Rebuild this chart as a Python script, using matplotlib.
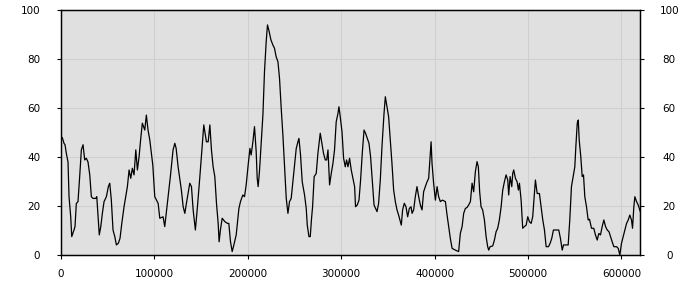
import matplotlib
matplotlib.use("Agg")
import matplotlib.pyplot as plt

x_values = [
    1400, 3200, 4300, 5700, 7500, 8600, 10400, 11500, 12900, 13900, 15000, 16400, 18200,
    20000, 21800, 23600, 25400, 27100, 28900, 30800, 32500, 34300, 37200, 38300, 39700,
    41000, 42600, 44300, 46100, 48600, 50700, 52200, 53900, 55700, 57600, 59300, 61400,
    63200, 65100, 67500, 69300, 71100, 72900, 74700, 76400, 78200, 80100, 81800, 83600,
    85400, 87100, 89700, 91400, 93200, 95100, 98300, 100400, 104000, 105800, 109300,
    111100, 114700, 117100, 120000, 121900, 123300, 125400, 128900, 130800, 132600,
    134300, 137900, 139700, 141500, 143900, 146100, 148700, 151100, 152900, 155700,
    157600, 159400, 161100, 162900, 164700, 166500, 168300, 169300, 170700, 172600,
    175500, 178200, 179700, 181500, 183300, 185100, 187600, 190500, 192200, 194700,
    196500, 198300, 200400, 202300, 203600, 205500, 207200, 209000, 210100, 211100,
    212500, 214400, 216200, 217900, 219700, 221100, 222900, 224800, 226900, 228600,
    230400, 232300, 234000, 235800, 237600, 239300, 241200, 243000, 244700, 246500,
    248300, 250000, 251900, 253700, 254800, 256500, 258300, 260800, 262600, 263700,
    265500, 266900, 268300, 269400, 271100, 273300, 275100, 277600, 279400, 281100,
    283000, 284500, 285900, 287600, 289400, 291200, 292900, 294700, 296600, 297600,
    299000, 300900, 302600, 304400, 305800, 307300, 309000, 310800, 312600, 314400,
    315400, 317200, 319100, 320800, 322600, 324500, 326100, 328000, 329800, 331500,
    333300, 335200, 336900, 338400, 340100, 341900, 343700, 345900, 347300, 349100,
    350800, 352600, 354400, 356200, 358000, 359800, 361500, 364400, 365800, 367600,
    369400, 371200, 373000, 374800, 375900, 377600, 379400, 381200, 383000, 384800,
    386600, 388300, 390100, 392000, 393700, 394800, 396300, 397300, 399000, 400900,
    402700, 404400, 406200, 408400, 411600, 413400, 415100, 416900, 418800, 422300,
    425800, 427600, 429500, 431200, 433000, 434800, 436500, 438400, 440200, 441900,
    443700, 445500, 446900, 448300, 449800, 451500, 453400, 455200, 456900, 458000,
    459500, 462300, 464100, 465900, 467600, 469400, 471300, 473000, 474800, 476600,
    478400, 479400, 480900, 482700, 483700, 484800, 486600, 488400, 489800, 490900,
    492700, 494400, 496200, 498100, 499800, 501600, 503400, 505100, 506900, 508000,
    509900, 512300, 514100, 515900, 517700, 519500, 522000, 523800, 525500, 527300,
    533000, 534800, 536700, 538100, 543100, 544800, 546600, 548400, 550200, 551300,
    552800, 553900, 554900, 556600, 558100, 559500, 560900, 562700, 564500, 565900,
    568100, 570500, 572300, 574200, 575900, 577700, 579500, 581300, 583100, 584900,
    586800, 588400, 590200, 592000, 594900, 596700, 598400, 600200, 602000, 603800,
    605600, 607400, 609100, 610900, 612000, 613400, 614500, 616300, 618100, 619800,
    621500,
]

y_values = [
    47.9, 45.6, 45.0, 41.5, 38.0, 23.8, 15.6, 7.5, 9.0, 10.2, 11.6, 21.0, 21.8,
    32.0, 42.9, 45.0, 38.8, 39.5, 38.0, 32.7, 23.8, 23.1, 23.1, 23.8, 15.6,
    8.2, 11.6, 17.0, 21.8, 23.8, 27.9, 29.3, 22.4, 10.2, 7.5, 4.1, 4.8,
    6.8, 12.9, 19.7, 23.8, 27.9, 34.7, 31.3, 35.4, 32.7, 42.9, 34.7, 40.1,
    47.6, 53.8, 51.0, 57.1, 51.0, 46.9, 36.7, 23.8, 21.1, 15.0, 15.6,
    11.6, 23.8, 32.0, 42.9, 45.6, 43.5, 36.0, 26.5, 19.7, 17.0,
    21.1, 29.3, 27.9, 18.4, 10.2, 19.7, 32.0, 44.2, 53.1, 46.2,
    46.2, 53.1, 42.9, 36.0, 32.0, 21.1, 12.9, 5.4, 10.2, 15.0,
    13.6, 12.9, 12.9, 5.4, 1.4, 4.1, 8.2, 19.0, 21.8, 24.5,
    23.8, 28.6, 36.7, 43.5, 40.8, 46.2, 52.4, 42.2, 31.3, 27.9,
    34.0, 46.2, 57.1, 74.8, 87.0, 93.9, 91.2, 87.8, 85.7, 84.4,
    80.9, 78.9, 72.1, 59.9, 49.0, 36.7, 23.1, 17.0, 21.8, 23.1,
    29.9, 36.7, 43.5, 46.2, 47.6, 40.8, 29.9, 24.5, 19.0, 12.2,
    7.5, 7.5, 15.0, 19.7, 32.0, 33.3, 41.5, 49.7, 45.6, 41.5,
    38.8, 38.8, 42.9, 28.6, 33.3, 37.4, 42.9, 54.4, 57.8, 60.5,
    56.5, 50.3, 39.5, 36.0, 38.8, 36.0, 39.5, 34.7, 31.3, 27.9,
    19.7, 20.4, 22.4, 30.6, 41.5, 51.0, 49.7, 47.6, 45.6, 40.1,
    30.6, 20.4, 19.0, 17.7, 21.1, 30.6, 44.2, 57.8, 64.6, 60.5,
    56.5, 46.9, 37.4, 26.5, 21.8, 18.4, 16.3, 12.2, 18.4, 21.1,
    19.7, 15.6, 19.0, 19.7, 17.0, 18.4, 23.8, 27.9, 23.8, 20.4,
    18.4, 25.8, 27.9, 29.9, 31.3, 37.4, 46.2, 37.4, 29.3, 22.4,
    27.9, 23.8, 21.8, 22.4, 21.8, 16.3, 11.6, 6.8, 2.7, 2.0,
    1.4, 8.8, 11.6, 17.0, 19.0, 19.4, 20.4, 21.8, 29.3, 25.8,
    34.0, 38.1, 36.0, 25.8, 19.7, 18.4, 14.3, 7.5, 3.4, 2.0,
    3.4, 3.7, 6.1, 9.5, 10.9, 14.3, 19.7, 26.5, 29.9, 32.7,
    30.6, 24.5, 32.0, 27.9, 33.3, 34.7, 31.3, 29.9, 26.5, 29.3,
    22.4, 10.9, 11.6, 12.2, 15.6, 13.6, 12.9, 15.6, 25.1, 30.6,
    25.1, 25.1, 19.7, 14.3, 10.2, 3.4, 3.4, 4.8, 6.8, 10.2,
    10.2, 6.8, 2.0, 4.1, 4.1, 14.3, 27.9, 32.0, 36.0, 44.2,
    53.8, 55.1, 46.9, 40.1, 32.0, 32.7, 23.8, 19.7, 14.3, 14.6,
    10.9, 10.9, 8.2, 6.1, 8.8, 8.2, 11.6, 14.3, 11.6, 10.2,
    9.5, 7.5, 5.4, 3.4, 3.4, 2.7, 0.0, 4.8, 7.5, 10.2,
    12.9, 14.3, 16.3, 14.3, 10.9, 19.7, 23.8, 21.8, 20.4, 18.4,
    16.3,
]

x_ticks = [0, 100000, 200000, 300000, 400000, 500000, 600000]
y_ticks = [0, 20, 40, 60, 80, 100]

plt.rcParams['font.family'] = ['DejaVu Sans']
fig = plt.figure(figsize=(7, 3), dpi=100)
ax = fig.add_axes([61 / 700, 45 / 300, 579 / 700, 245 / 300])
ax.set_facecolor('#e0e0e0')
ax.plot(x_values, y_values, color='black', linewidth=0.9)
ax.set_xlim(0, 620000)
ax.set_ylim(0, 100)
ax.set_xticks(x_ticks)
ax.set_xticklabels([str(t) for t in x_ticks])
ax.set_yticks(y_ticks)
ax.set_yticklabels([str(t) for t in y_ticks])
ax.grid(True, color='#cfcfcf', linewidth=0.8)
ax.set_axisbelow(True)
ax.tick_params(axis='both', labelsize=7.5, length=3, width=0.8, colors='black')
ax.tick_params(axis='x', pad=7)
ax.tick_params(axis='y', pad=12)
for spine in ax.spines.values():
    spine.set_linewidth(0.9)
    spine.set_color('black')

ax2 = ax.twinx()
ax2.set_ylim(0, 100)
ax2.set_yticks(y_ticks)
ax2.set_yticklabels([str(t) for t in y_ticks])
ax2.tick_params(axis='y', labelsize=7.5, length=3, width=0.8, colors='black', pad=18)
for lbl in ax2.get_yticklabels():
    lbl.set_horizontalalignment('center')
for spine in ax2.spines.values():
    spine.set_linewidth(0.9)
    spine.set_color('black')

fig.savefig('out.png', dpi=100)
